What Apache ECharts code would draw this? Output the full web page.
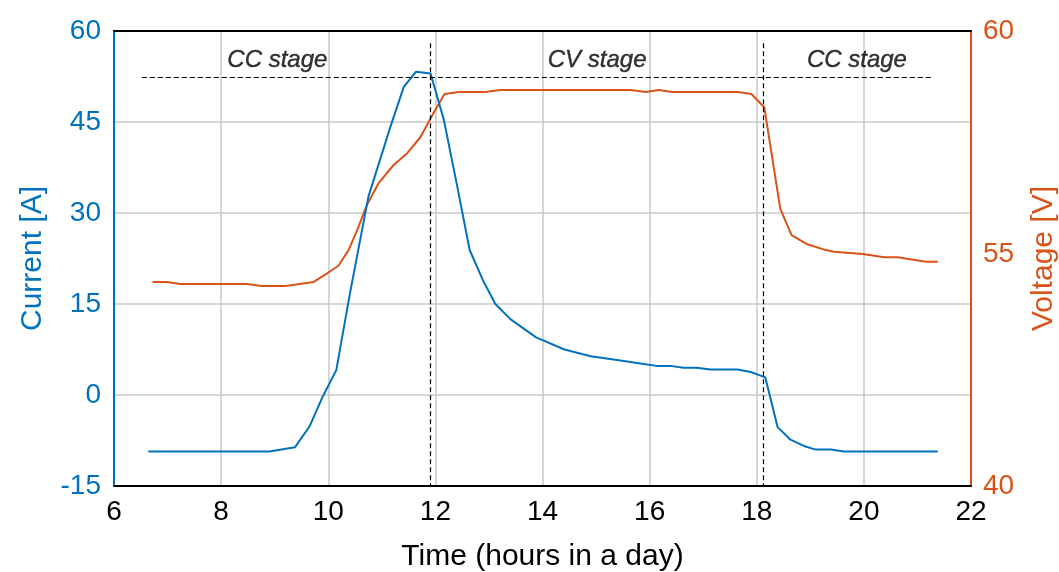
<!DOCTYPE html>
<html>
<head>
<meta charset="utf-8">
<script src="https://cdn.jsdelivr.net/npm/echarts@6/dist/echarts.min.js"></script>
<style>
  html, body { margin: 0; padding: 0; background: #fff; }
  #chart { width: 1059px; height: 572px; }
</style>
</head>
<body>
<div id="chart"></div>
<script>
// current [A] vs time (hours)
const currentHours = [6.64, 7.5, 8.2, 8.9, 9.38, 9.65, 9.9, 10.15, 10.4, 10.75, 11.16, 11.41, 11.64, 11.91,
  12.16, 12.41, 12.64, 12.9, 13.12, 13.4, 13.88, 14.41, 14.9, 15.36, 15.89, 16.13, 16.39, 16.63, 16.88,
  17.13, 17.64, 17.89, 18.16, 18.39, 18.62, 18.88, 19.1, 19.38, 19.63, 20.5, 21.38];
const currentValues = [-9.3, -9.3, -9.3, -9.3, -8.6, -5.2, -0.2, 4.1, 16.5, 32.7, 44.2, 50.8, 53.3, 53.0,
  45.3, 34.3, 23.9, 18.7, 15.0, 12.5, 9.5, 7.5, 6.4, 5.8, 5.1, 4.8, 4.8, 4.5, 4.5,
  4.2, 4.2, 3.8, 2.9, -5.3, -7.3, -8.4, -9.0, -9.0, -9.3, -9.3, -9.3];

// voltage [V] vs time (hours)
const voltageHours = [6.72, 6.99, 7.23, 8.48, 8.76, 9.2, 9.73, 9.98, 10.19, 10.38, 10.54, 10.72, 10.94,
  11.22, 11.47, 11.72, 11.91, 12.17, 12.44, 12.93, 13.21, 15.64, 15.93, 16.17, 16.42, 17.65, 17.9,
  18.14, 18.44, 18.65, 18.93, 19.29, 19.44, 19.98, 20.38, 20.63, 21.16, 21.38];
const voltageValues = [48.97, 48.97, 48.88, 48.88, 48.79, 48.79, 48.97, 49.35, 49.68, 50.37, 51.25, 52.35, 53.31,
  54.11, 54.62, 55.33, 56.16, 57.23, 57.32, 57.32, 57.41, 57.41, 57.32, 57.41, 57.32, 57.32, 57.23,
  56.65, 52.18, 51.03, 50.64, 50.37, 50.3, 50.2, 50.05, 50.05, 49.86, 49.86];

// axis ticks
const xTicks = [6, 8, 10, 12, 14, 16, 18, 20, 22];
const currentTicks = [-15, 0, 15, 30, 45, 60];
const voltageTickValues = [40, 50.2, 60];
const voltageTickLabels = ['40', '55', '60'];

// stage annotations
const stageBounds = [11.91, 18.12];
const stageBoundTop = 58;
const stageDivider = [6.52, 21.27, 52.3];
const stageNames = ['CC stage', 'CV stage', 'CC stage'];
const stageNameHours = [9.05, 15.02, 19.87];
const stageNameLevel = 55.1;

const BLUE = '#0072BD';
const ORANGE = '#D95319';
const FONT = 'Liberation Sans, Arial, sans-serif';

const chart = echarts.init(document.getElementById('chart'));

const zip = (xs, ys) => xs.map((x, i) => [x, ys[i]]);

const dashed = { color: '#000', width: 1.2, type: [5, 3] };
const gridLine = { show: true, lineStyle: { color: '#c8c8c8', width: 1.5 } };

const option = {
  animation: false,
  textStyle: { fontFamily: FONT },
  grid: { left: 114, right: 88, top: 31, bottom: 86, outerBoundsMode: 'none', containLabel: false },
  xAxis: [{
    type: 'value',
    min: xTicks[0], max: xTicks[xTicks.length - 1], interval: 2,
    name: 'Time (hours in a day)',
    nameLocation: 'middle', nameGap: 56,
    nameTextStyle: { color: '#000', fontSize: 30, fontFamily: FONT },
    axisLine: { onZero: false, lineStyle: { color: '#000', width: 2 } },
    axisTick: { show: false },
    axisLabel: { color: '#000', fontSize: 28, margin: 12, fontFamily: FONT },
    splitLine: gridLine
  }, {
    // black frame on top
    type: 'value',
    position: 'top',
    min: xTicks[0], max: xTicks[xTicks.length - 1], interval: 2,
    axisLine: { onZero: false, lineStyle: { color: '#000', width: 2 } },
    axisTick: { show: false },
    axisLabel: { show: false },
    splitLine: { show: false }
  }],
  yAxis: [{
    type: 'value',
    min: currentTicks[0], max: currentTicks[currentTicks.length - 1], interval: 15,
    name: 'Current [A]',
    nameLocation: 'middle', nameGap: 66,
    nameTextStyle: { color: BLUE, fontSize: 30, fontFamily: FONT },
    axisLine: { show: true, onZero: false, lineStyle: { color: BLUE, width: 2 } },
    axisTick: { show: false },
    axisLabel: { color: BLUE, fontSize: 28, margin: 13, fontFamily: FONT },
    splitLine: gridLine
  }, {
    type: 'value',
    min: 40, max: 60,
    position: 'right',
    name: 'Voltage [V]',
    nameLocation: 'middle', nameGap: 58,
    nameTextStyle: { color: ORANGE, fontSize: 30, fontFamily: FONT },
    axisLine: { show: true, onZero: false, lineStyle: { color: ORANGE, width: 2 } },
    axisTick: { show: false },
    axisLabel: {
      color: ORANGE, fontSize: 28, margin: 12, fontFamily: FONT,
      customValues: voltageTickValues,
      formatter: v => voltageTickLabels[voltageTickValues.indexOf(v)]
    },
    splitLine: { show: false }
  }],
  series: [{
    name: 'Current',
    type: 'line',
    xAxisIndex: 0,
    yAxisIndex: 0,
    data: zip(currentHours, currentValues),
    showSymbol: false,
    lineStyle: { color: BLUE, width: 2 },
    itemStyle: { color: BLUE },
    z: 3,
    markLine: {
      silent: true,
      symbol: 'none',
      label: { show: false },
      lineStyle: dashed,
      data: [
        ...stageBounds.map(h => [{ coord: [h, stageBoundTop] }, { coord: [h, currentTicks[0]] }]),
        [{ coord: [stageDivider[0], stageDivider[2]] }, { coord: [stageDivider[1], stageDivider[2]] }]
      ]
    }
  }, {
    name: 'Voltage',
    type: 'line',
    xAxisIndex: 0,
    yAxisIndex: 1,
    data: zip(voltageHours, voltageValues),
    showSymbol: false,
    lineStyle: { color: ORANGE, width: 2 },
    itemStyle: { color: ORANGE },
    z: 2
  }, {
    name: 'Stages',
    type: 'scatter',
    xAxisIndex: 0,
    yAxisIndex: 0,
    symbolSize: 0,
    silent: true,
    data: stageNames.map((n, i) => ({ name: n, value: [stageNameHours[i], stageNameLevel] })),
    label: {
      show: true, position: 'inside', formatter: '{b}',
      color: '#000', fontSize: 24, fontStyle: 'italic', fontFamily: FONT,
      textBorderColor: '#000', textBorderWidth: 0.4
    }
  }]
};

chart.setOption(option);
</script>
</body>
</html>
